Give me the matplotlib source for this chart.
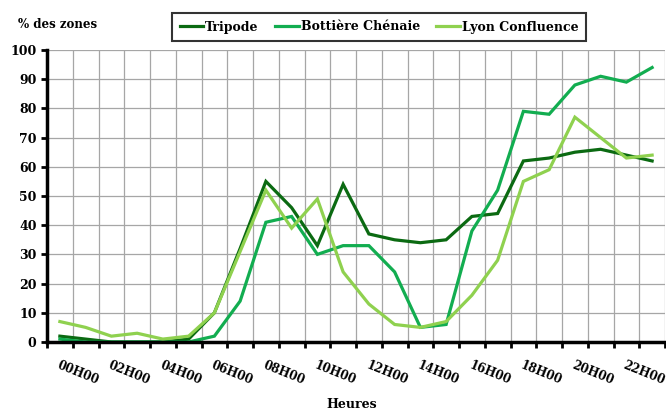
"""Part des zones occupées par heure, trois quartiers."""

import matplotlib

matplotlib.use("Agg")

import matplotlib.pyplot as plt
from matplotlib.ticker import FixedLocator, MultipleLocator

HOURS = [f"{h:02d}H00" for h in range(24)]
TRIPODE = [2, 1, 0, 0, 0, 1, 10, 32, 55, 46, 33, 54, 37, 35, 34, 35, 43, 44, 62, 63, 65, 66, 64, 62]
BOTTIERE = [1, 0, 0, 0, 0, 0, 2, 14, 41, 43, 30, 33, 33, 24, 5, 6, 38, 52, 79, 78, 88, 91, 89, 94]
CONFLUENCE = [7, 5, 2, 3, 1, 2, 10, 31, 52, 39, 49, 24, 13, 6, 5, 7, 16, 28, 55, 59, 77, 70, 63, 64]
SERIES_NAMES = ["Tripode", "Bottière Chénaie", "Lyon Confluence"]

COLORS = ["#0b6a12", "#12ad50", "#8fd14f"]
FONT = "DejaVu Serif"

plt.rcParams["font.family"] = FONT
plt.rcParams["font.weight"] = "bold"

fig = plt.figure(figsize=(6.66, 4.12), dpi=100)
ax = fig.add_axes([47 / 666, 1 - 342 / 412, 618 / 666, 292 / 412])

x = list(range(len(HOURS)))
for values, name, color in zip([TRIPODE, BOTTIERE, CONFLUENCE], SERIES_NAMES, COLORS):
    ax.plot(x, values, color=color, linewidth=2.3, label=name, zorder=3,
            solid_joinstyle="miter")

ax.set_xlim(-0.5, len(HOURS) - 0.5)
ax.set_ylim(0, 100)

# grid on category boundaries, labels on every other hour
ax.xaxis.set_major_locator(FixedLocator([i - 0.5 for i in range(len(HOURS) + 1)]))
ax.xaxis.set_minor_locator(FixedLocator(x[::2]))
ax.set_xticklabels([])
ax.set_xticklabels(HOURS[::2], minor=True, rotation=-22, ha="left",
                   rotation_mode="anchor", fontsize=8.5, fontweight="bold")
ax.tick_params(axis="x", which="major", direction="out", length=4, width=2)
ax.tick_params(axis="x", which="minor", length=0, pad=12)
ax.yaxis.set_major_locator(MultipleLocator(10))
ax.tick_params(axis="y", direction="out", length=4, width=2, labelsize=9)
for label in ax.get_yticklabels():
    label.set_fontweight("bold")

ax.grid(True, which="major", color="#a6a6a6", linewidth=0.9, zorder=0)
ax.set_axisbelow(True)
for side in ("top", "right"):
    ax.spines[side].set_visible(False)
for side in ("left", "bottom"):
    ax.spines[side].set_linewidth(2.5)
    ax.spines[side].set_zorder(4)

fig.text(18 / 666, 1 - 24 / 412, "% des zones", fontsize=8.5, fontweight="bold",
         va="center", ha="left")
fig.text(352 / 666, 1 - 405 / 412, "Heures", fontsize=9, fontweight="bold",
         va="center", ha="center")

legend = ax.legend(loc="center", bbox_to_anchor=(379 / 666, 1 - 27 / 412),
                   bbox_transform=fig.transFigure, ncol=3, frameon=True,
                   fancybox=False, edgecolor="black", handlelength=1.9,
                   handletextpad=0.15, columnspacing=1.3, borderpad=0.6,
                   borderaxespad=0, prop={"family": FONT, "weight": "bold", "size": 9})
legend.get_frame().set_linewidth(1.5)

fig.savefig("out.png", dpi=100)
